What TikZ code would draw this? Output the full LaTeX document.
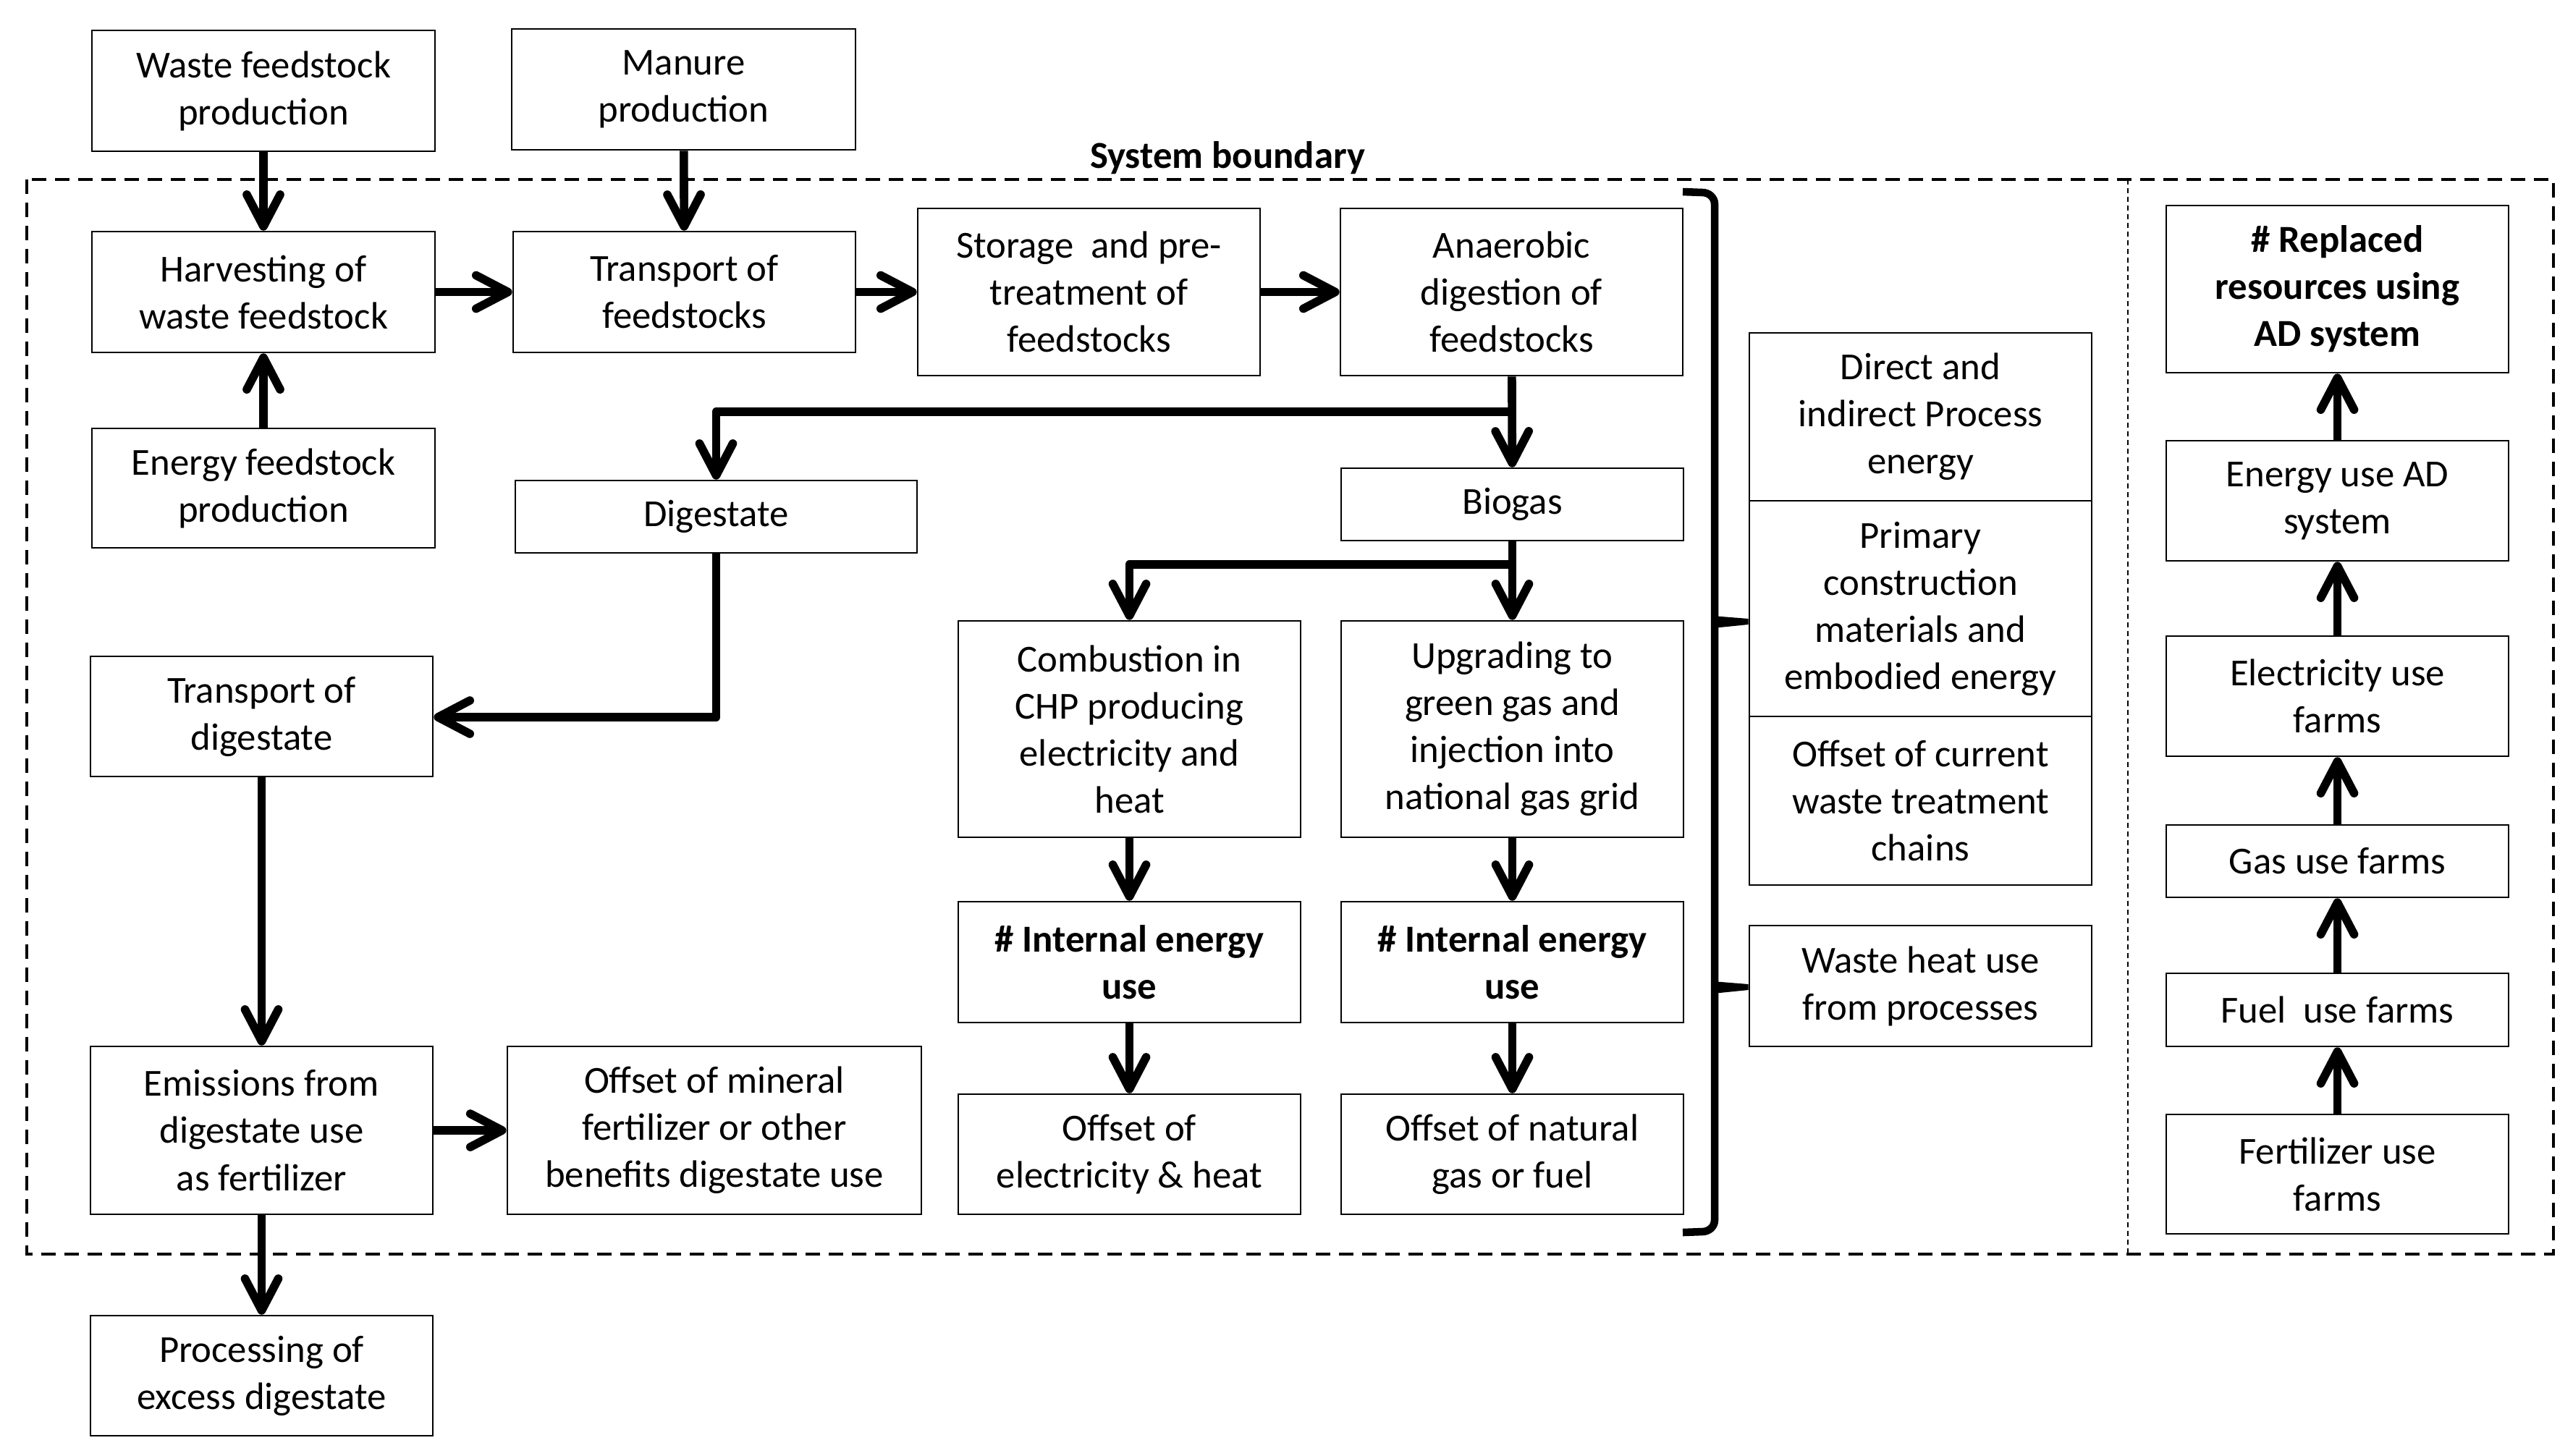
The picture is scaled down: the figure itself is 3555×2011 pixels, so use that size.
\documentclass[tikz,border=0pt]{standalone}
\usepackage{fontspec}
\setmainfont{Carlito}
\usetikzlibrary{arrows.meta}
\newcommand{\fs}{\fontsize{15}{18.5}\selectfont}
\tikzset{
  box/.style={draw, line width=0.7pt, align=center, inner sep=0pt, font=\fs},
  arr/.style={line width=3.3pt, -{Straight Barb[length=4.4mm,width=4.6mm,round]}},
  brace/.style={line width=3pt, line cap=butt, line join=round},
}
\begin{document}
\begin{tikzpicture}[x=0.01cm,y=-0.01cm]
\useasboundingbox (0,0) rectangle (3555,2011);
% boundary
\draw[line width=1.3pt, dash pattern=on 0.2cm off 0.12cm] (37,248) rectangle (3528,1733);
\draw[line width=0.8pt, dash pattern=on 0.07cm off 0.05cm] (2940,248) -- (2940,1733);
\node[font=\fs\bfseries] (sb) at (1696,218) {System boundary};
% boxes
\node[box, minimum width=4.74cm, minimum height=1.67cm] (waste) at (364,125.5) {Waste feedstock\\production};
\node[box, minimum width=4.75cm, minimum height=1.67cm] (manure) at (944.5,123.5) {Manure\\production};
\node[box, minimum width=4.74cm, minimum height=1.67cm] (harv) at (364,403.5) {Harvesting of\\waste feedstock};
\node[box, minimum width=4.73cm, minimum height=1.67cm] (transf) at (945.5,403.5) {Transport of\\feedstocks};
\node[box, minimum width=4.73cm, minimum height=2.31cm] (storage) at (1504.5,403.5) {Storage\ \ and pre-\\treatment of\\feedstocks};
\node[box, minimum width=4.73cm, minimum height=2.31cm] (ad) at (2088.5,403.5) {Anaerobic\\digestion of\\feedstocks};
\node[box, minimum width=4.74cm, minimum height=1.65cm] (efeed) at (364,674.5) {Energy feedstock\\production};
\node[box, minimum width=5.55cm, minimum height=1.00cm] (dig) at (989.5,714) {Digestate};
\node[box, minimum width=4.73cm, minimum height=1.00cm] (biogas) at (2089.5,697) {Biogas};
\node[box, minimum width=4.73cm, minimum height=1.66cm] (transd) at (361.5,990) {Transport of\\digestate};
\node[box, minimum width=4.73cm, minimum height=2.99cm] (chp) at (1560.5,1007.5) {Combustion in\\CHP producing\\electricity and\\heat};
\node[box, minimum width=4.73cm, minimum height=2.99cm] (upg) at (2089.5,1007.5) {Upgrading to\\green gas and\\injection into\\national gas grid};
\node[box, minimum width=4.73cm, minimum height=1.67cm, font=\fs\bfseries] (int1) at (1560.5,1329.5) {\# Internal energy\\use};
\node[box, minimum width=4.73cm, minimum height=1.67cm, font=\fs\bfseries] (int2) at (2089.5,1329.5) {\# Internal energy\\use};
\node[box, minimum width=4.73cm, minimum height=1.66cm] (offel) at (1560.5,1595) {Offset of\\electricity \& heat};
\node[box, minimum width=4.73cm, minimum height=1.66cm] (offgas) at (2089.5,1595) {Offset of natural\\gas or fuel};
\node[box, minimum width=4.73cm, minimum height=2.32cm] (emis) at (361.5,1562) {Emissions from\\digestate use\\as fertilizer};
\node[box, minimum width=5.72cm, minimum height=2.32cm] (offmin) at (987,1562) {Offset of mineral\\fertilizer or other\\benefits digestate use};
\node[box, minimum width=4.73cm, minimum height=1.66cm] (proc) at (361.5,1901) {Processing of\\excess digestate};
\node[box, minimum width=4.73cm, minimum height=2.32cm] (direct) at (2653.5,576) {Direct and\\indirect Process\\energy};
\node[box, minimum width=4.73cm, minimum height=2.98cm] (primary) at (2653.5,841) {Primary\\construction\\materials and\\embodied energy};
\node[box, minimum width=4.73cm, minimum height=2.33cm] (offcur) at (2653.5,1106.5) {Offset of current\\waste treatment\\chains};
\node[box, minimum width=4.73cm, minimum height=1.67cm] (wheat) at (2653.5,1362.5) {Waste heat use\\from processes};
\node[box, minimum width=4.73cm, minimum height=2.31cm, font=\fs\bfseries] (repl) at (3229.5,399.5) {\# Replaced\\resources using\\AD system};
\node[box, minimum width=4.73cm, minimum height=1.66cm] (euse) at (3229.5,692) {Energy use AD\\system};
\node[box, minimum width=4.73cm, minimum height=1.66cm] (elec) at (3229.5,962) {Electricity use\\farms};
\node[box, minimum width=4.73cm, minimum height=1.00cm] (gas) at (3229.5,1190) {Gas use farms};
\node[box, minimum width=4.73cm, minimum height=1.01cm] (fuel) at (3229.5,1395.5) {Fuel\ \ use farms};
\node[box, minimum width=4.73cm, minimum height=1.65cm] (fert) at (3229.5,1622.5) {Fertilizer use\\farms};
% coordinates for branches
\coordinate (b1) at (2089.5,569);
\coordinate (b1l) at (989.5,569);
\coordinate (b2) at (2089.5,780);
\coordinate (b2l) at (1560.5,780);
\coordinate (b3) at (989.5,991);
% arrows
\draw[arr] (waste) -- (harv);
\draw[arr] (manure) -- (transf);
\draw[arr] (harv) -- (transf);
\draw[arr] (transf) -- (storage);
\draw[arr] (storage) -- (ad);
\draw[arr] (efeed) -- (harv);
\draw[arr] (ad) -- (biogas);
\draw[arr, line join=round] (b1) -- (b1l) -- (dig);
\draw[arr, line join=round] (dig) -- (b3) -- (transd.east |- b3);
\draw[arr] (biogas) -- (upg);
\draw[arr, line join=round] (b2) -- (b2l) -- (chp);
\draw[arr] (chp) -- (int1);
\draw[arr] (int1) -- (offel);
\draw[arr] (upg) -- (int2);
\draw[arr] (int2) -- (offgas);
\draw[arr] (transd) -- (emis);
\draw[arr] (emis) -- (offmin);
\draw[arr] (emis) -- (proc);
\draw[arr] (fert) -- (fuel);
\draw[arr] (fuel) -- (gas);
\draw[arr] (gas) -- (elec);
\draw[arr] (elec) -- (euse);
\draw[arr] (euse) -- (repl);
% brace
\draw[brace] (2325,265) -- (2352,266) to[out=0,in=90] (2369,282) -- (2369,1686) to[out=-90,in=0] (2352,1702) -- (2325,1703);
\fill (2366,851) -- (primary.west |- 0,855) -- (primary.west |- 0,863) -- (2366,868) -- cycle;
\fill (2366,1356) -- (wheat.west |- 0,1360) -- (wheat.west |- 0,1368) -- (2366,1373) -- cycle;
\end{tikzpicture}
\end{document}
